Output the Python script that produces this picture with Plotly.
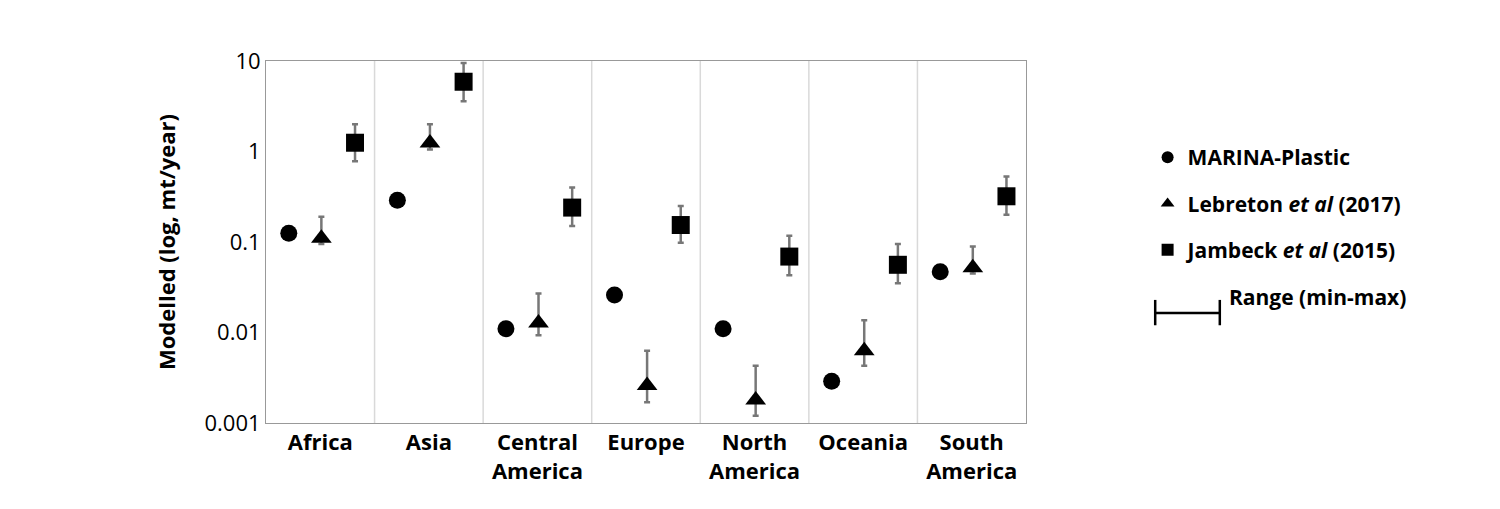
import plotly.graph_objects as go

regions = ["Africa", "Asia", "Central<br>America", "Europe", "North<br>America", "Oceania", "South<br>America"]
marina = [0.125, 0.29, 0.011, 0.026, 0.011, 0.0029, 0.047]
lebreton = [0.11, 1.24, 0.0127, 0.0026, 0.0018, 0.0063, 0.052]
lebreton_min = [0.095, 1.05, 0.0093, 0.0017, 0.0012, 0.0043, 0.045]
lebreton_max = [0.19, 2.0, 0.027, 0.0063, 0.0043, 0.0137, 0.089]
jambeck = [1.25, 5.9, 0.24, 0.154, 0.069, 0.056, 0.32]
jambeck_min = [0.78, 3.6, 0.15, 0.098, 0.043, 0.035, 0.2]
jambeck_max = [2.0, 9.5, 0.4, 0.25, 0.117, 0.095, 0.53]

idx = list(range(len(regions)))
fig = go.Figure()

def err(v, lo, hi):
    return dict(type="data", symmetric=False,
                array=[h - x for x, h in zip(v, hi)],
                arrayminus=[x - l for x, l in zip(v, lo)],
                color="#777777", thickness=2.5, width=3)

fig.add_trace(go.Scatter(x=[i - 0.29 for i in idx], y=marina, mode="markers",
                         name="MARINA-Plastic", legendgroup="a",
                         marker=dict(symbol="circle", size=17, color="black")))
fig.add_trace(go.Scatter(x=[i + 0.01 for i in idx], y=lebreton, mode="markers",
                         name="Lebreton <i>et al</i> (2017)", legendgroup="b",
                         error_y=err(lebreton, lebreton_min, lebreton_max),
                         marker=dict(symbol="triangle-up", size=18, color="black")))
fig.add_trace(go.Scatter(x=[i + 0.32 for i in idx], y=jambeck, mode="markers",
                         name="Jambeck <i>et al</i> (2015)", legendgroup="c",
                         error_y=err(jambeck, jambeck_min, jambeck_max),
                         marker=dict(symbol="square", size=18, color="black")))

for k in range(1, len(regions)):
    fig.add_shape(type="line", x0=k - 0.5, x1=k - 0.5, y0=0, y1=1, yref="paper",
                  line=dict(color="#d9d9d9", width=1.5), layer="below")

# Range legend entry
for (x0, x1, y0, y1) in [(1.17, 1.255, 0.304, 0.304), (1.17, 1.17, 0.27, 0.34), (1.255, 1.255, 0.27, 0.34)]:
    fig.add_shape(type="line", xref="paper", yref="paper", x0=x0, x1=x1, y0=y0, y1=y1,
                  line=dict(color="black", width=2.5))
fig.add_annotation(xref="paper", yref="paper", x=1.265, y=0.304, xanchor="left",
                   text="<b>Range (min-max)</b>", showarrow=False,
                   font=dict(size=21, color="black"))

fig.update_layout(
    width=1500, height=509, plot_bgcolor="white", paper_bgcolor="white",
    margin=dict(l=258, r=482, t=53, b=94, autoexpand=False),
    font=dict(family="Open Sans", color="black"),
    showlegend=True,
    legend=dict(x=1.16, y=0.79, xanchor="left", yanchor="top",
                font=dict(size=21, family="Open Sans", weight="bold"),
                itemsizing="constant", tracegroupgap=16),
    xaxis=dict(range=[-0.5, 6.5], tickvals=idx, ticktext=["<b>%s</b>" % r for r in regions],
               tickfont=dict(size=22), showgrid=False, zeroline=False, automargin=False,
               showline=True, linecolor="#999999", mirror=True, ticks=""),
    yaxis=dict(type="log", range=[-3, 1], tickvals=[0.001, 0.01, 0.1, 1, 10],
               ticktext=["0.001", "0.01", "0.1", "1", "10"], tickfont=dict(size=22),
               showgrid=False, showline=True, linecolor="#999999", mirror=True, automargin=False,
               title=dict(text="<b>Modelled (log, mt/year)</b>", font=dict(size=22), standoff=22)),
)
fig.write_html("out.html")
